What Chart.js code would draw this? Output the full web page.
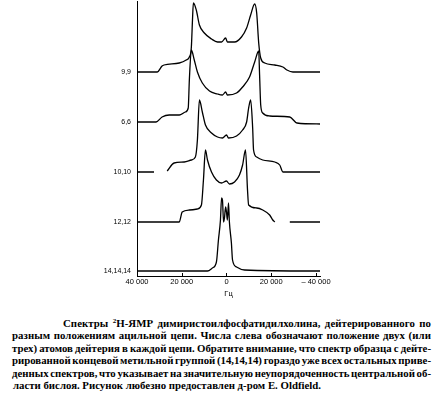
<!DOCTYPE html>
<html>
<head>
<meta charset="utf-8">
<script src="https://cdn.jsdelivr.net/npm/chart.js@4/dist/chart.umd.min.js"></script>
<style>
  html, body { margin: 0; padding: 0; background: #fff; }
  #wrap { position: relative; width: 436px; height: 394px; overflow: hidden; background: #fff; }
  #c { position: absolute; left: 0; top: 0; }
  .ln { position: absolute; white-space: nowrap; font-family: "Liberation Serif", "Times New Roman", serif;
        font-size: 10.8px; font-weight: bold; line-height: 12px; color: #000; }
  .ln sup { font-size: 7px; line-height: 0; vertical-align: 4px; }
</style>
</head>
<body>
<div id="wrap">
  <canvas id="c" width="436" height="305" style="width:436px;height:305px"></canvas>
  <div id="cap"></div>
</div>
<script>
// ---- data ----
const seriesNames = ["9,9", "6,6", "10,10", "12,12", "14,14,14"];
const baselines = [204, 154, 104, 54, 5];

const hz99  = [40000, 31000, 28800, 27900, 21100, 18000, 16600, 15700, 15200, 14800, 13500, 12100, 9900, 6700, 4000, 2200, 400, -400, -3600, -6700, -9000, -10800, -12600, -13500, -14400, -15300, -17100, -21600, -25200, -27000, -29700, -41800];
const int99 = [0, 0, 6, 7, 9, 12, 15, 25, 52, 69, 62, 47, 39, 33, 30, 30, 34, 30, 30, 35, 44, 57, 68, 59, 29, 14, 9, 7, 5, 2, 0, 0];

const hz66  = [40000, 31500, 28800, 25600, 21100, 18400, 17100, 16600, 15700, 14400, 13000, 10800, 7600, 4000, 1800, 400, -400, -4500, -7200, -10300, -12600, -14400, -14800, -15300, -16200, -19300, -28300, -31500, -41800];
const int66 = [0, 0, 5, 7, 7, 10, 14, 42, 72, 62, 50, 39, 31, 28, 27, 30, 27, 29, 35, 45, 60, 71, 47, 17, 9, 6, 5, -1, -2];

// null = break in the printed trace
const hz1010  = [40000, 32400, 29500, 26500, 23400, 18900, 15700, 13900, 13000, 12100, 10800, 9400, 6700, 4000, 1800, 0, -900, -4500, -7200, -9000, -9900, -10800, -11700, -12100, -13500, -16200, -21600, -23800, -25200, -41800];
const int1010 = [0, 0, null, 1, 9, 10, 12, 15, 32, 72, 60, 47, 39, 35, 34, 37, 34, 36, 42, 50, 64, 72, 44, 22, 15, 12, 10, 7, 0, 0];

const hz1212  = [40000, 21100, 19800, 16600, 13000, 11200, 10300, 9400, 8500, 6700, 4500, 2200, 0, -1300, -3600, -5800, -7200, -8500, -9400, -9900, -13500, -16200, -19300, -20700, -21600, -25000, -28300, -41800];
const int1212 = [0, 0, 10, 12, 13, 17, 42, 72, 62, 50, 42, 39, 41, 38, 40, 47, 57, 72, 32, 17, 14, 12, 7, 2, 0, null, 0, 0];

const hz141414  = [40000, 8500, 6300, 4500, 3600, 2700, 2200, 1800, 1300, 900, 400, 0, -400, -900, -1300, -2200, -2700, -4500, -8100, -41800];
const int141414 = [0, 0, 3, 9, 31, 51, 73, 71, 49, 53, 64, 59, 51, 68, 49, 28, 11, 4, 1, 0];

const xTickVals   = [40000, 20000, 0, -20000, -40000];
const xTickLabels = ["40 000", "20 000", "0", "20 000", "\u2013 40 000"];
const xTitle = "Гц";

const captionLines = [
  "Спектры <sup>2</sup>H-ЯМР димиристоилфосфатидилхолина, дейтерированного по",
  "разным положениям ацильной цепи. Числа слева обозначают положение двух (или",
  "трех) атомов дейтерия в каждой цепи. Обратите внимание, что спектр образца с дейте-",
  "рированной концевой метильной группой (14,14,14) гораздо уже всех остальных приве-",
  "денных спектров, что указывает на значительную неупорядоченность центральной об-",
  "ласти бислоя. Рисунок любезно предоставлен д-ром E. Oldfield."
];

// ---- build chart ----
const hzs = [hz99, hz66, hz1010, hz1212, hz141414];
const ints = [int99, int66, int1010, int1212, int141414];
const datasets = seriesNames.map((name, k) => ({
  label: name,
  data: hzs[k].map((h, i) => ({ x: h, y: ints[k][i] === null ? null : baselines[k] + ints[k][i] })),
  borderColor: '#000',
  borderWidth: 1.3,
  pointRadius: 0,
  fill: false,
  spanGaps: false,
  cubicInterpolationMode: 'monotone'
}));

const tickMarks = {
  id: 'tickMarks',
  afterDraw(chart) {
    const ctx = chart.ctx, xs = chart.scales.x, b = chart.chartArea.bottom;
    ctx.save();
    ctx.strokeStyle = '#000';
    ctx.lineWidth = 1;
    ctx.beginPath();
    xTickVals.forEach(v => {
      const px = Math.round(xs.getPixelForValue(v)) + 0.5;
      ctx.moveTo(px, b);
      ctx.lineTo(px, b - 3);
    });
    ctx.stroke();
    ctx.restore();
  }
};

new Chart(document.getElementById('c'), {
  type: 'line',
  data: { datasets },
  plugins: [tickMarks],
  options: {
    responsive: false,
    animation: false,
    devicePixelRatio: 1,
    layout: { padding: { left: 0, right: 116, top: 1, bottom: 0 } },
    plugins: { legend: { display: false }, tooltip: { enabled: false } },
    scales: {
      x: {
        type: 'linear', reverse: true, min: -41800, max: 40000,
        afterBuildTicks: s => { s.ticks = xTickVals.map(v => ({ value: v })); },
        afterFit: s => { s.height = 29; s.paddingLeft = 0; s.paddingRight = 0; },
        grid: { drawOnChartArea: false, drawTicks: false },
        border: { display: true, color: '#000', width: 1 },
        ticks: {
          autoSkip: false, maxRotation: 0, padding: 1, color: '#000',
          font: { family: 'Liberation Sans, Arial, sans-serif', size: 7.5 },
          callback: (v, i) => xTickLabels[i]
        },
        title: {
          display: true, text: xTitle, color: '#000',
          font: { family: 'Liberation Sans, Arial, sans-serif', size: 7.5 },
          padding: { top: 7, bottom: 7 }
        }
      },
      y: {
        type: 'linear', min: 0, max: 275,
        afterBuildTicks: s => { s.ticks = baselines.map(v => ({ value: v })); },
        afterFit: s => { s.width = 137; s.paddingTop = 0; s.paddingBottom = 0; },
        grid: { drawOnChartArea: false, drawTicks: false },
        border: { display: true, color: '#000', width: 1 },
        ticks: {
          autoSkip: false, padding: 6, color: '#000',
          font: { family: 'Liberation Sans, Arial, sans-serif', size: 7 },
          callback: (v, i) => seriesNames[i]
        }
      }
    }
  }
});

// ---- caption (justified lines: extra width shared by letters and spaces) ----
const cap = document.getElementById('cap');
const lineCenters = [323, 335.4, 347.8, 360.2, 372.6, 385];
const lineLeft = [63, 12, 12, 12, 12, 13];
const lineRight = 431;
captionLines.forEach((t, i) => {
  const d = document.createElement('div');
  d.className = 'ln';
  d.innerHTML = t;
  d.style.left = lineLeft[i] + 'px';
  d.style.top = (lineCenters[i] - 6) + 'px';
  cap.appendChild(d);
  if (i < captionLines.length - 1) {
    const w = d.getBoundingClientRect().width;
    const txt = d.textContent;
    const n = (txt.match(/ /g) || []).length;
    const extra = (lineRight - lineLeft[i]) - w;
    const ls = extra > 0 ? (extra * 0.4) / txt.length : 0;
    d.style.letterSpacing = ls + 'px';
    const w2 = d.getBoundingClientRect().width;
    const rest = (lineRight - lineLeft[i]) - w2;
    if (n > 0) d.style.wordSpacing = (rest / n) + 'px';
  }
});
</script>
</body>
</html>
